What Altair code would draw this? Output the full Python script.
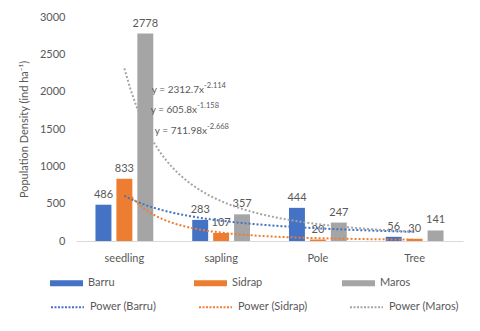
import altair as alt
import pandas as pd

categories = ["seedling", "sapling", "Pole", "Tree"]
series = ["Barru", "Sidrap", "Maros"]
barru = [486, 283, 444, 56]
sidrap = [833, 107, 20, 30]
maros = [2778, 357, 247, 141]
colors = ["#4472C4", "#ED7D31", "#A5A5A5"]
trend_names = ["Power (Barru)", "Power (Sidrap)", "Power (Maros)"]
trend_widths = [2, 2, 1.5]
y_ticks = [0, 500, 1000, 1500, 2000, 2500, 3000]

# trendline equation annotations (anchor in data units: x index, y value)
eq_main = ["y = 2312.7x", "y = 605.8x", "y = 711.98x"]
eq_exp = ["-2.114", "-1.158", "-2.668"]
eq_x = [1.823, 1.751, 1.854]
eq_y = [2022, 1754, 1473]

rows = []
for s, vals in zip(series, [barru, sidrap, maros]):
    for i, (c, v) in enumerate(zip(categories, vals)):
        rows.append({"category": c, "idx": i + 1, "series": s, "value": v})
df = pd.DataFrame(rows)
eq_df = pd.DataFrame({"main": eq_main, "exp": eq_exp, "ex": eq_x, "ey": eq_y})

FONT = "Lato"
GRAY = "#595959"
FS = 11

y_axis = alt.Axis(values=y_ticks, format="d", grid=False, domain=False, ticks=False, labelPadding=11,
                  labelFont=FONT, labelFontSize=FS, labelColor=GRAY,
                  title="Population Density (ind ha⁻¹)", titleFont=FONT, titleFontSize=FS,
                  titleFontWeight="normal", titleColor=GRAY, titlePadding=10)
y_scale = alt.Scale(domain=[0, 3000], nice=False)

x_band_scale = alt.Scale(paddingInner=0, paddingOuter=0)
x_band = alt.X("category:N", sort=categories, scale=x_band_scale,
               axis=alt.Axis(title=None, labelAngle=0, ticks=False, domainColor="#D9D9D9",
                             labelPadding=11, labelFont=FONT, labelFontSize=FS, labelColor=GRAY))
xoff = alt.XOffset("series:N", sort=series,
                   scale=alt.Scale(paddingInner=0.238, paddingOuter=0.93))

base = alt.Chart(df)

bars = base.mark_bar().encode(
    x=x_band,
    xOffset=xoff,
    y=alt.Y("value:Q", scale=y_scale, axis=y_axis),
    fill=alt.Fill("series:N", sort=series,
                  scale=alt.Scale(domain=series, range=colors),
                  legend=alt.Legend(orient="none", legendX=-26, legendY=249.5,
                                    direction="horizontal", columns=3, title=None,
                                    symbolType="M-1,-0.18L1,-0.18L1,0.18L-1,0.18Z",
                                    symbolSize=1089, symbolStrokeWidth=0,
                                    labelFont=FONT, labelFontSize=FS, labelColor=GRAY,
                                    columnPadding=79, labelOffset=5, padding=0)),
)

labels = base.mark_text(baseline="bottom", dy=-5, font=FONT, fontSize=FS, color=GRAY).encode(
    x=x_band,
    xOffset=xoff,
    y=alt.Y("value:Q", scale=y_scale, axis=y_axis),
    text=alt.Text("value:Q"),
)

x_num = alt.Scale(domain=[0.5, 4.5], nice=False, zero=False)

trend = base.transform_regression(
    "idx", "value", method="pow", groupby=["series"], extent=[1, 4]
).transform_calculate(
    trend='"Power (" + datum.series + ")"'
).mark_line(strokeDash=[2, 2]).encode(
    x=alt.X("idx:Q", scale=x_num, axis=None),
    y=alt.Y("value:Q", scale=y_scale, axis=y_axis),
    stroke=alt.Stroke("trend:N", sort=trend_names,
                      scale=alt.Scale(domain=trend_names, range=colors),
                      legend=alt.Legend(orient="none", legendX=-26, legendY=272.5,
                                        direction="horizontal", columns=3, title=None,
                                        symbolType="stroke", symbolSize=1089,
                                        symbolStrokeWidth=1.5, symbolDash=[2, 1.5],
                                        labelFont=FONT, labelFontSize=FS, labelColor=GRAY,
                                        columnPadding=38, labelOffset=5, padding=0)),
    strokeWidth=alt.StrokeWidth("trend:N",
                                scale=alt.Scale(domain=trend_names, range=trend_widths),
                                legend=None),
)

eq_base = alt.Chart(eq_df).encode(
    x=alt.X("ex:Q", scale=x_num, axis=None),
    y=alt.Y("ey:Q", scale=y_scale, axis=y_axis),
)
eq_main_txt = eq_base.mark_text(align="right", baseline="middle", font=FONT, fontSize=10,
                                color=GRAY).encode(text="main:N")
eq_exp_txt = eq_base.mark_text(align="left", baseline="middle", dy=-4, font=FONT, fontSize=7.5,
                               color=GRAY).encode(text="exp:N")

chart = alt.layer(
    alt.layer(bars, labels),
    alt.layer(trend, eq_main_txt, eq_exp_txt),
).resolve_scale(x="independent").properties(
    width=387, height=224,
    autosize=alt.AutoSizeParams(type="none"),
    padding={"left": 68, "top": 9, "right": 9, "bottom": 78},
).configure_view(stroke=None)

chart.save("out.html", embed_options={"renderer": "svg", "actions": False})
